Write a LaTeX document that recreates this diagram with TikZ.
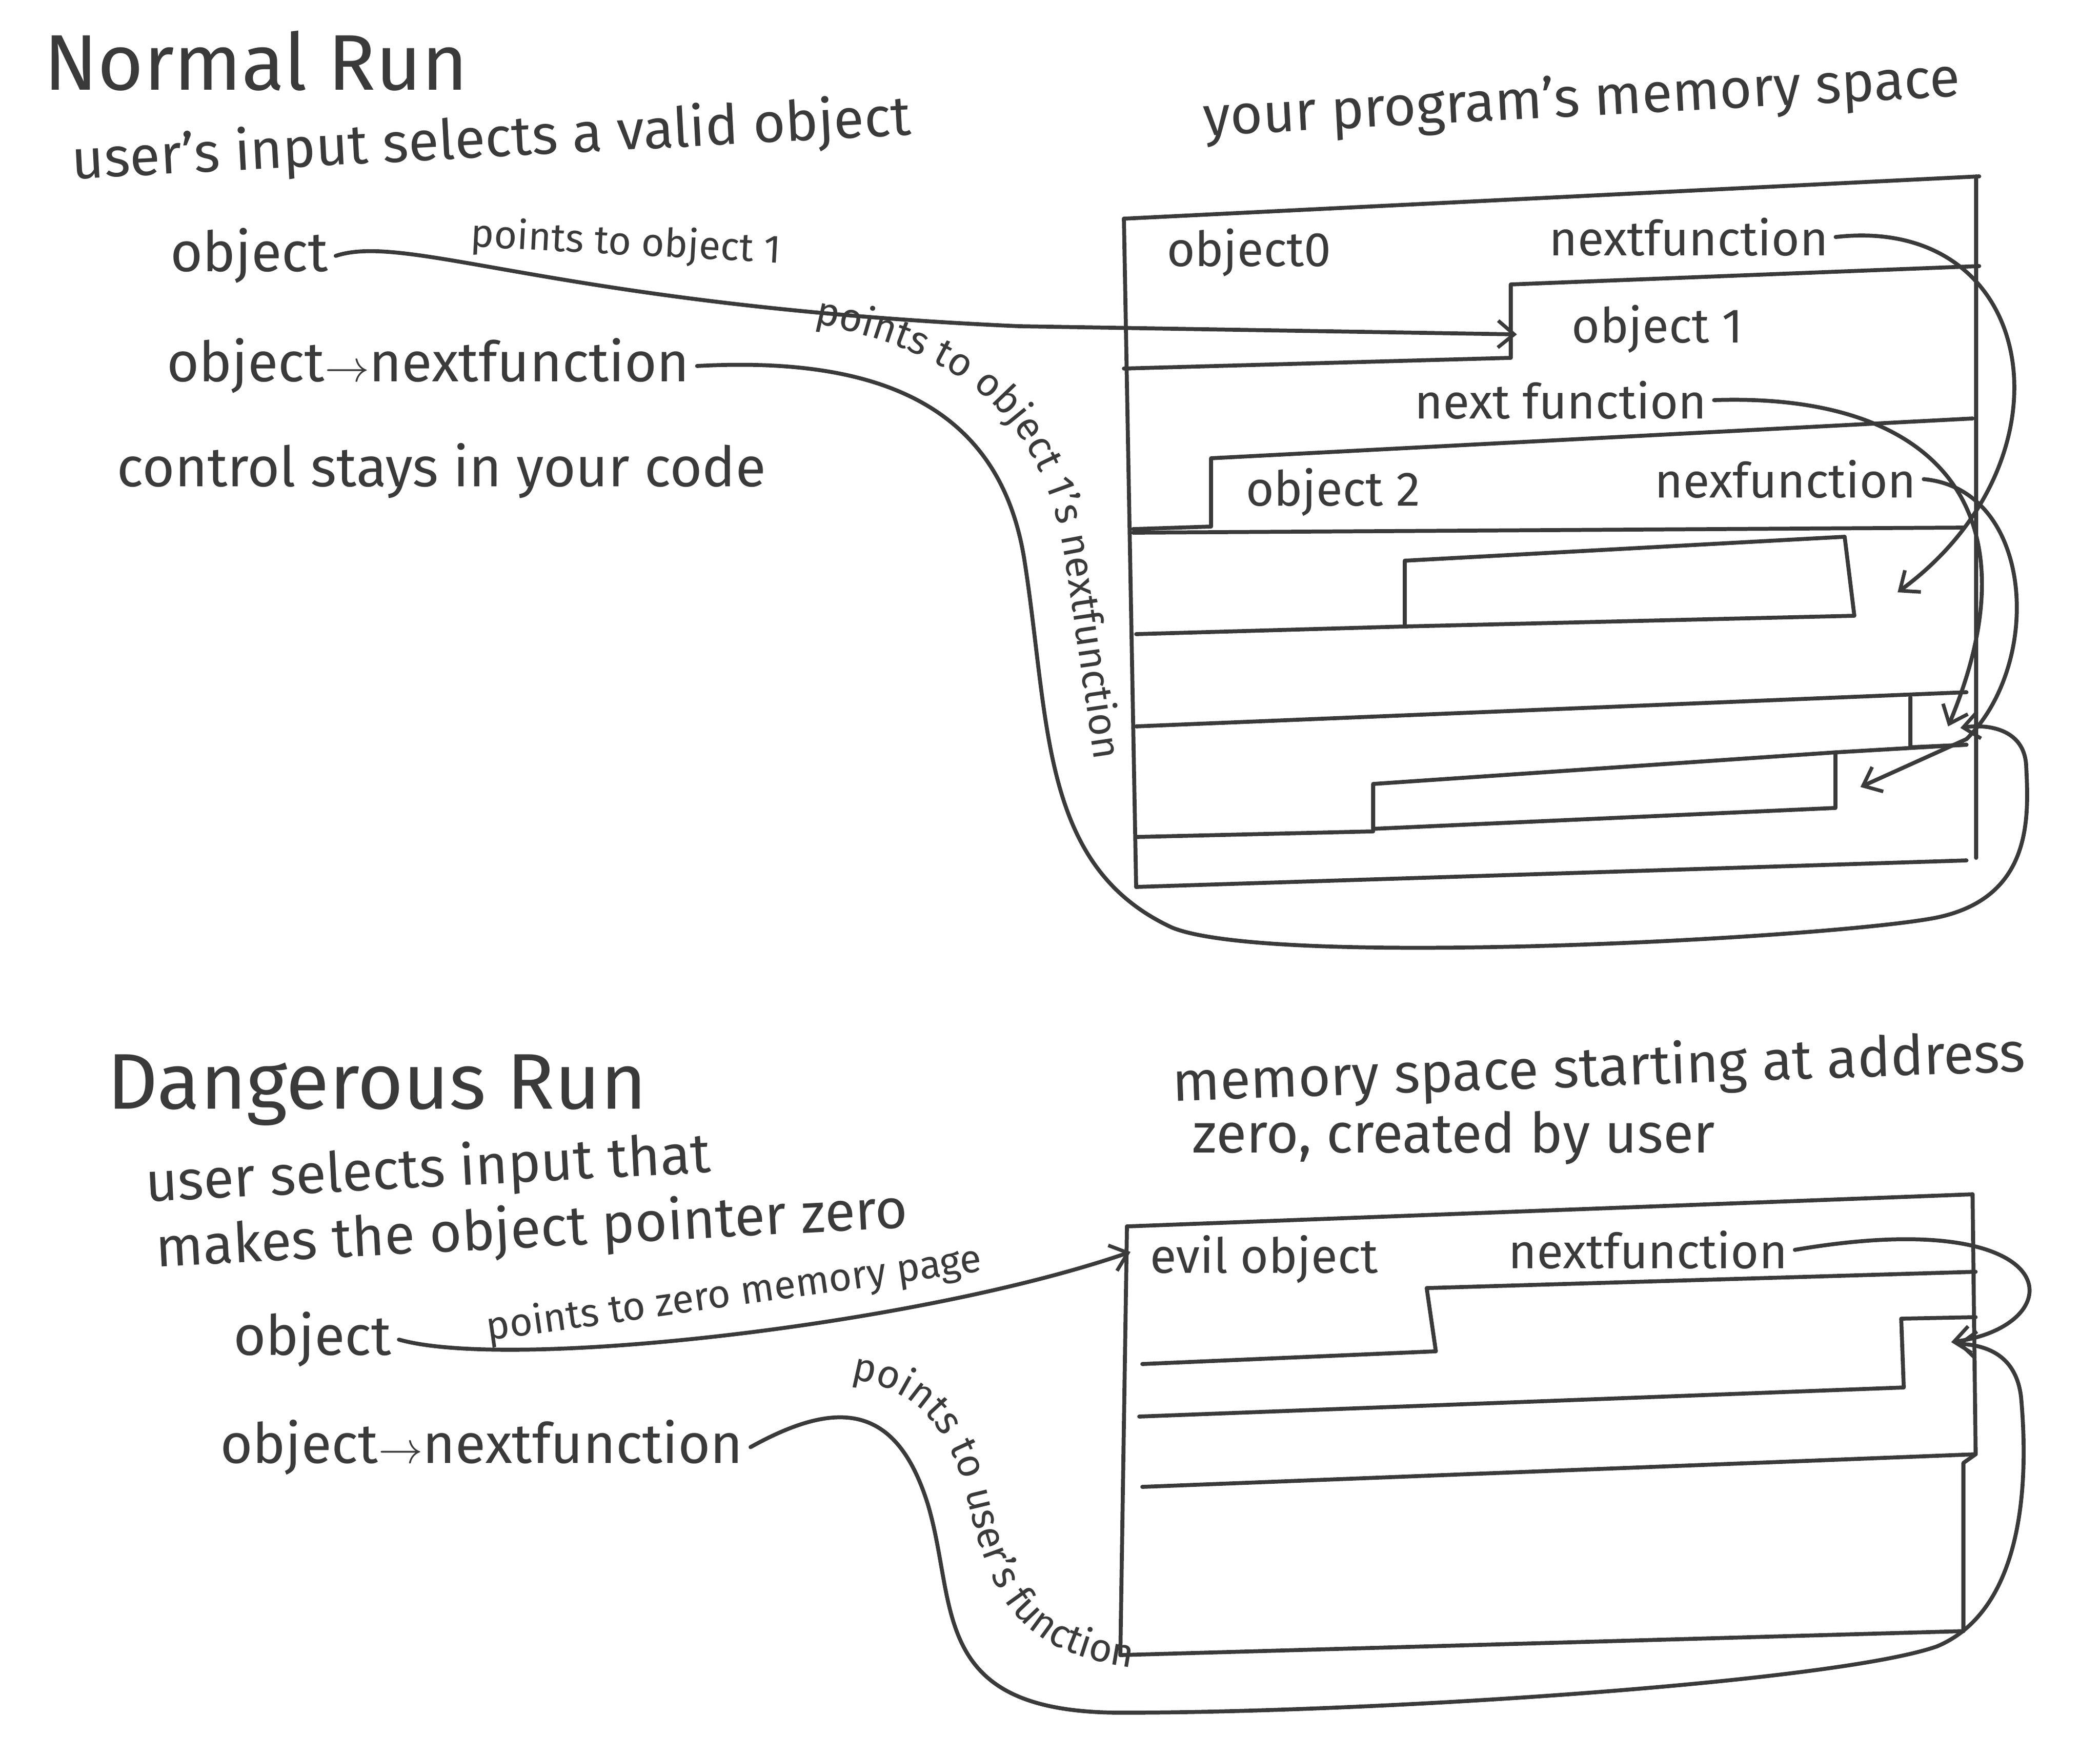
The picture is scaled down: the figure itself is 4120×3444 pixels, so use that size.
\documentclass[tikz,border=0pt]{standalone}
\usepackage{fontspec}
\setmainfont{Fira Sans}
\usetikzlibrary{arrows.meta,decorations.text}
\definecolor{ink}{HTML}{3A3A3A}
\begin{document}
\begin{tikzpicture}[x=0.01cm,y=-0.01cm,
  ink/.style={draw=ink,line width=2.2pt,line cap=round,line join=round},
  con/.style={ink,-{Straight Barb[length=9pt,width=15pt,line width=2pt]}},
  big/.style={text=ink,font=\fontsize{44}{48}\selectfont,inner sep=2pt},
  txt/.style={text=ink,font=\fontsize{31}{35}\selectfont,inner sep=4pt},
  lbl/.style={text=ink,font=\fontsize{27}{30}\selectfont,inner sep=4pt},
  sml/.style={text=ink,font=\fontsize{22}{25}\selectfont,inner sep=3pt}]
\fill[white] (0,0) rectangle (4120,3444);
\useasboundingbox (0,0) rectangle (4120,3444);

% ---------- Normal run ----------
\node[big] (nr) at (502,119) {Normal Run};
\node[txt,rotate=3] (t1) at (964,277) {user's input selects a valid object};
\node[txt] (o1) at (489,502) {object};
\node[sml,rotate=-3] (p1) at (1228,478) {points to object 1};
\node[txt] (nf1) at (840,718) {object$\rightarrow$nextfunction};
\node[txt] (t2) at (866,924) {control stays in your code};
\node[txt,rotate=3] (t3) at (3103,198) {your program's memory space};

% memory box
\draw[ink] (2205,429) -- (3883,346);
\draw[ink] (3877,346) -- (3877,1683);
\draw[ink] (2205,429) -- (2229,1740);
\draw[ink] (3883,522) -- (2964,558) -- (2964,702) -- (2205,723);
\draw[ink] (3870,821) -- (2376,899) -- (2376,1033) -- (2223,1038);
\draw[ink] (2223,1045) -- (3853,1035);
\draw[ink] (2229,1244) -- (2756,1229) -- (2756,1100) -- (3619,1053) -- (3638,1208) -- (2756,1229);
\draw[ink] (2229,1425) -- (3858,1358);
\draw[ink] (3748,1368) -- (3748,1466) -- (3858,1461);
\draw[ink] (3858,1461) -- (3601,1476) -- (3601,1585) -- (2694,1626) -- (2694,1538) -- (3601,1476);
\draw[ink] (2694,1631) -- (2229,1642);
\draw[ink] (2229,1740) -- (3858,1688);

\node[lbl] (b0) at (2450,496) {object0};
\node[lbl] (bn0) at (3313,465) {nextfunction};
\node[lbl] (b1) at (3252,646) {object 1};
\node[lbl] (bn1) at (3062,785) {next function};
\node[lbl] (b2) at (2615,966) {object 2};
\node[lbl] (bn2) at (3503,940) {nexfunction};

\coordinate (a1) at (2976,656);
\coordinate (a2) at (3723,1162);
\coordinate (a3) at (3822,1425);
\coordinate (a4) at (3650,1544);
\coordinate (a5) at (3846,1428);
\coordinate (k3) at (3858,1450);

\draw[con] (o1.east) .. controls (800,455) and (1100,600) .. (2000,640) -- (a1);
\draw[con] (bn0.east) .. controls (4000,420) and (4080,900) .. (a2);
\draw[con] (bn1.east) .. controls (3800,770) and (4000,1000) .. (a3);
\draw[ink] (bn2.east) .. controls (3990,960) and (4010,1300) .. (k3);
\draw[con] (k3) -- (a4);
\draw[con] (nf1.east) .. controls (1700,700) and (1960,780) .. (2010,1100)
   .. controls (2060,1420) and (2040,1700) .. (2300,1820)
   .. controls (2500,1900) and (3600,1840) .. (3800,1800)
   .. controls (3990,1760) and (3980,1600) .. (3975,1500)
   .. controls (3970,1430) and (3900,1420) .. (a5);
\path[decorate,decoration={text along path,text align=center,
   text={|\fontsize{22}{25}\selectfont\color{ink}|points to object 1's nextfunction}}]
   (1450,610) .. controls (1850,660) and (2040,780) .. (2090,1100) .. controls (2120,1300) and (2140,1450) .. (2170,1640);

% ---------- Dangerous run ----------
\node[big] (dr) at (740,2139) {Dangerous Run};
\node[txt,rotate=3] (t4) at (840,2298) {user selects input that};
\node[txt,rotate=3] (t5) at (1043,2416) {makes the object pointer zero};
\node[txt] (o2) at (613,2628) {object};
\node[sml,rotate=8] (p2) at (1440,2540) {points to zero memory page};
\node[txt] (nf2) at (945,2839) {object$\rightarrow$nextfunction};
\node[txt,rotate=2] (t6) at (3137,2100) {memory space starting at address};
\node[txt] (t7) at (2852,2232) {zero, created by user};

\draw[ink] (2211,2406) -- (3870,2343);
\draw[ink] (3870,2343) -- (3876,2853);
\draw[ink] (3876,2853) -- (3852,2870) -- (3852,3200);
\draw[ink] (2211,2406) -- (2198,3247);
\draw[ink] (3876,2495) -- (2799,2527) -- (2817,2651) -- (2241,2676);
\draw[ink] (3876,2584) -- (3730,2587) -- (3735,2722) -- (2235,2779);
\draw[ink] (3876,2853) -- (2241,2917);
\draw[ink] (3852,3200) -- (2198,3247);

\node[lbl] (ev) at (2480,2470) {evil object};
\node[lbl] (bn3) at (3233,2452) {nextfunction};

\coordinate (a6) at (2218,2456);
\coordinate (a7) at (3828,2633);
\coordinate (a8) at (3840,2636);
\draw[con] (o2.east) .. controls (1000,2690) and (1800,2600) .. (a6);
\draw[con] (bn3.east) .. controls (4060,2360) and (4070,2600) .. (a7);
\draw[con] (nf2.east) .. controls (1650,2740) and (1760,2760) .. (1820,2950)
   .. controls (1880,3150) and (1820,3360) .. (2200,3360)
   .. controls (2700,3360) and (3600,3300) .. (3800,3230)
   .. controls (3990,3150) and (3975,2850) .. (3965,2740)
   .. controls (3955,2660) and (3900,2640) .. (a8);
\path[decorate,decoration={text along path,text align=center,
   text={|\fontsize{22}{25}\selectfont\color{ink}|points to user's function}}]
   (1560,2700) .. controls (1780,2690) and (1860,2780) .. (1900,2950) .. controls (1950,3150) and (2000,3270) .. (2330,3280);
\end{tikzpicture}
\end{document}
